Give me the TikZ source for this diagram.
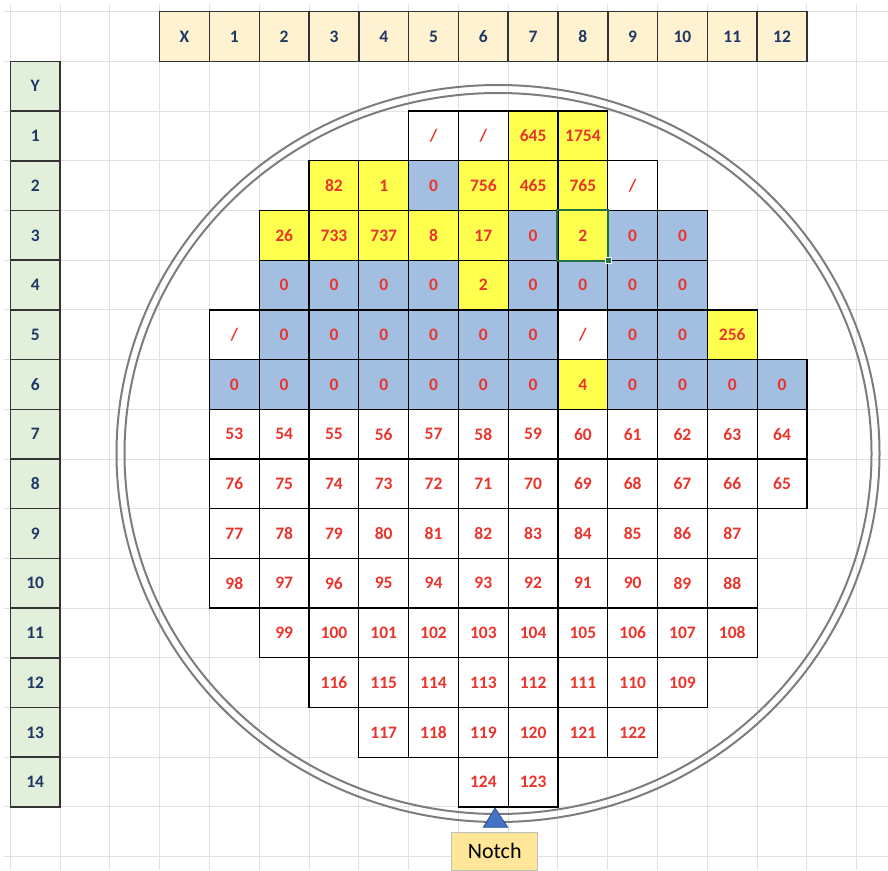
\documentclass[tikz,border=0pt]{standalone}
\usepackage{fontspec}
\setmainfont{Carlito}
\definecolor{gridc}{RGB}{225,225,225}
\definecolor{wy}{RGB}{255,255,77}
\definecolor{wb}{RGB}{162,190,224}
\definecolor{wr}{RGB}{234,52,44}
\definecolor{navy}{RGB}{31,56,100}
\definecolor{hxfill}{RGB}{255,242,208}
\definecolor{hyfill}{RGB}{226,239,218}
\definecolor{ringc}{RGB}{125,125,125}
\definecolor{notchblue}{RGB}{68,114,196}
\definecolor{notchedge}{RGB}{47,82,143}
\definecolor{notchbox}{RGB}{255,230,153}
\definecolor{selgreen}{RGB}{33,115,70}
\newcommand\slsh{/}
\begin{document}
\begin{tikzpicture}[x=1pt,y=-1pt,
  cellbox/.style={draw=black, line width=1.3pt, minimum width=49.79pt, minimum height=49.7pt,
    inner sep=0pt, text=wr, font=\bfseries\fontsize{17.5}{18}\selectfont},
  hdrbox/.style={draw=black!80, line width=1.5pt, minimum width=49.79pt, minimum height=49.7pt,
    inner sep=0pt, text=navy, font=\bfseries\fontsize{17.5}{18}\selectfont},
  gridline/.style={gridc, line width=1pt},
  ring/.style={ringc, line width=2pt}]
\useasboundingbox (0,0) rectangle (888,870);
% spreadsheet grid
\foreach \k in {0,...,17} {
  \draw[gridline] ({10.3+49.79*\k},4) -- ({10.3+49.79*\k},870);
  \draw[gridline] (4,{11.7+49.7*\k}) -- (888,{11.7+49.7*\k});
}
% wafer rings
\draw[ring] (498,453.5) ellipse [x radius=381.5pt, y radius=368.5pt];
\draw[ring] (498,453.5) ellipse [x radius=373.5pt, y radius=360.5pt];
% X header
\foreach \i/\t in {0/X,1/1,2/2,3/3,4/4,5/5,6/6,7/7,8/8,9/9,10/10,11/11,12/12}
  \node[hdrbox, fill=hxfill] (hx-\i) at ({10.3+49.79*(\i+3.5)},{11.7+49.7*0.5}) {\t};
% Y header
\foreach \i/\t in {0/Y,1/1,2/2,3/3,4/4,5/5,6/6,7/7,8/8,9/9,10/10,11/11,12/12,13/13,14/14}
  \node[hdrbox, fill=hyfill] (hy-\i) at ({10.3+49.79*0.5},{11.7+49.7*(\i+1.5)}) {\t};
% coloured cells (rows 1-6)
\foreach \c/\r/\t/\f in {
  5/1/\slsh/white, 6/1/\slsh/white, 7/1/645/wy, 8/1/1754/wy,
  3/2/82/wy, 4/2/1/wy, 5/2/0/wb, 6/2/756/wy, 7/2/465/wy, 8/2/765/wy, 9/2/\slsh/white,
  2/3/26/wy, 3/3/733/wy, 4/3/737/wy, 5/3/8/wy, 6/3/17/wy, 7/3/0/wb, 8/3/2/wy, 9/3/0/wb, 10/3/0/wb,
  2/4/0/wb, 3/4/0/wb, 4/4/0/wb, 5/4/0/wb, 6/4/2/wy, 7/4/0/wb, 8/4/0/wb, 9/4/0/wb, 10/4/0/wb,
  1/5/\slsh/white, 2/5/0/wb, 3/5/0/wb, 4/5/0/wb, 5/5/0/wb, 6/5/0/wb, 7/5/0/wb, 8/5/\slsh/white,
  9/5/0/wb, 10/5/0/wb, 11/5/256/wy,
  1/6/0/wb, 2/6/0/wb, 3/6/0/wb, 4/6/0/wb, 5/6/0/wb, 6/6/0/wb, 7/6/0/wb, 8/6/4/wy,
  9/6/0/wb, 10/6/0/wb, 11/6/0/wb, 12/6/0/wb}
  \node[cellbox, fill=\f] (c-\c-\r) at ({10.3+49.79*(\c+3.5)},{11.7+49.7*(\r+1.5)}) {\t};
% numbered cells (rows 7-14)
\foreach \r/\a/\b/\base/\sg in {7/1/12/52/1, 8/1/12/77/-1, 9/1/11/76/1, 10/1/11/99/-1,
    11/2/11/97/1, 12/3/10/119/-1, 13/4/9/113/1, 14/6/7/130/-1}
  \foreach \c in {\a,...,\b} {
    \pgfmathtruncatemacro\cellval{\base+(\sg)*\c}
    \node[cellbox, fill=white] (c-\c-\r) at ({10.3+49.79*(\c+3.5)},{11.7+49.7*(\r+1.5)}) {\cellval};
  }
% selected cell marker
\draw[selgreen, line width=2pt] (c-8-3.north west) rectangle (c-8-3.south east);
\node[draw=white, line width=0.8pt, fill=selgreen, minimum size=6pt, inner sep=0pt] (sel) at (c-8-3.south east) {};
% notch
\filldraw[fill=notchblue, draw=notchedge, line width=0.8pt] (495,808) -- (483.3,827.3) -- (507.7,827.3) -- cycle;
\node[draw=black!25, line width=1pt, fill=notchbox, minimum width=86pt, minimum height=38pt,
  inner sep=0pt, font=\fontsize{22}{24}\selectfont] (notch) at (494.7,851.2) {Notch};
\end{tikzpicture}
\end{document}
